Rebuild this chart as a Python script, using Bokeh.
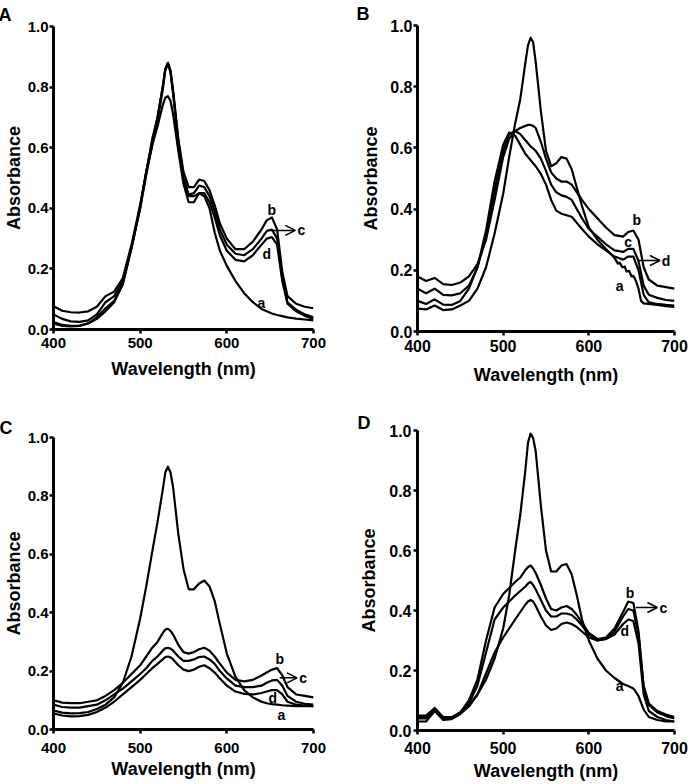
from bokeh.plotting import figure
from bokeh.layouts import row, column
from bokeh.models import Range1d, FixedTicker, PrintfTickFormatter, Arrow, OpenHead, ColumnDataSource
from bokeh.embed import file_html
from bokeh.resources import INLINE
from bokeh.core.properties import value

# ---------------- data ----------------
WL = [400, 410, 420, 430, 440, 450, 460, 470, 480, 490, 500, 507, 514, 520, 526, 529, 532, 535, 538, 544, 550, 556,
      562, 568, 574, 580, 586, 592, 600, 610, 620, 630, 640, 646, 652, 658, 664, 670, 680, 690, 700]

# Panel A
A_a = [.025, .015, .012, .013, .02, .035, .06, .09, .15, .27, .40, .52, .63, .70, .80, .86, .88, .85, .78, .62, .50, .44,
       .44, .45, .44, .40, .32, .26, .21, .16, .12, .09, .068, .06, .053, .048, .044, .04, .036, .033, .03]
A_b = [.077, .062, .057, .056, .06, .075, .11, .125, .17, .28, .41, .52, .62, .70, .80, .86, .88, .855, .79, .63, .52, .47,
       .47, .495, .49, .46, .41, .35, .30, .265, .265, .29, .33, .36, .37, .33, .19, .11, .085, .075, .07]
A_c = [.05, .035, .027, .025, .03, .05, .09, .11, .16, .27, .40, .51, .61, .69, .79, .855, .875, .85, .78, .62, .50, .445,
       .45, .475, .47, .44, .39, .33, .28, .25, .245, .265, .30, .325, .33, .30, .17, .09, .065, .05, .04]
A_d = [.02, .012, .01, .012, .02, .04, .07, .095, .15, .27, .41, .52, .61, .67, .74, .765, .77, .755, .71, .59, .48, .42,
       .42, .45, .45, .42, .37, .31, .26, .23, .225, .245, .28, .30, .305, .28, .16, .085, .06, .045, .035]

# Panel B
B_a_wl = [400, 410, 420, 430, 440, 450, 460, 470, 480, 490, 500, 507, 514, 520, 526, 529, 532, 535, 538, 544, 550, 556,
          562, 568, 574, 580, 586, 592, 600, 610, 620, 630, 634, 636, 639, 642, 644, 647, 650, 652, 655, 658,
          661, 664, 670, 680, 690, 700]
B_a = [.075, .072, .085, .07, .072, .085, .10, .14, .21, .32, .45, .57, .68, .76, .88, .935, .96, .945, .88, .72, .59, .54,
       .55, .57, .565, .53, .47, .41, .34, .30, .27, .24, .222, .225, .21, .212, .196, .198, .18, .182, .165, .14,
       .10, .092, .09, .087, .083, .08]
B_b = [.18, .165, .175, .155, .152, .16, .18, .22, .30, .43, .57, .63, .655, .665, .672, .675, .675, .672, .665, .62, .565, .52,
       .50, .49, .49, .48, .455, .43, .40, .37, .34, .315, .31, .325, .33, .30, .21, .17, .15, .145, .14]
B_c = [.14, .125, .14, .12, .118, .125, .15, .21, .31, .46, .59, .645, .655, .645, .625, .615, .605, .598, .59, .565, .525, .48,
       .455, .445, .44, .43, .40, .37, .335, .31, .285, .265, .26, .27, .27, .23, .15, .12, .11, .103, .10]
B_d = [.10, .09, .105, .088, .087, .10, .14, .21, .33, .49, .61, .65, .64, .61, .58, .57, .56, .55, .54, .515, .48, .43,
       .395, .385, .38, .375, .355, .335, .31, .285, .265, .245, .235, .245, .245, .20, .12, .095, .09, .087, .085]

# Panel C
C_a = [.065, .058, .055, .056, .06, .07, .085, .11, .16, .25, .38, .49, .61, .71, .82, .88, .90, .88, .83, .67, .55, .48,
       .48, .50, .51, .49, .44, .36, .26, .18, .135, .11, .095, .09, .087, .085, .083, .082, .08, .08, .08]
C_b = [.10, .092, .09, .09, .095, .10, .115, .135, .16, .19, .22, .25, .28, .30, .33, .342, .345, .338, .325, .29, .265, .26,
       .265, .275, .28, .27, .25, .225, .195, .17, .165, .17, .185, .195, .205, .21, .185, .145, .12, .115, .11]
C_c = [.085, .077, .075, .075, .08, .085, .10, .12, .14, .165, .19, .21, .235, .25, .27, .278, .28, .277, .27, .25, .235, .235,
       .24, .248, .25, .24, .225, .20, .175, .15, .145, .145, .15, .16, .168, .17, .15, .115, .095, .088, .085]
C_d = [.055, .048, .045, .046, .05, .06, .075, .095, .12, .145, .17, .19, .21, .225, .24, .248, .25, .247, .24, .22, .205, .20,
       .205, .215, .22, .21, .195, .175, .15, .13, .122, .12, .125, .13, .135, .135, .12, .095, .085, .082, .08]

# Panel D
D_a = [.04, .04, .07, .04, .04, .06, .085, .12, .17, .24, .34, .45, .60, .72, .87, .96, .99, .975, .93, .75, .60, .53,
       .53, .55, .555, .52, .45, .37, .30, .24, .20, .175, .155, .148, .14, .115, .07, .045, .035, .03, .03]
D_b = [.05, .05, .075, .045, .045, .06, .10, .17, .30, .41, .455, .475, .495, .51, .535, .545, .55, .54, .525, .485, .44, .405,
       .40, .41, .415, .405, .385, .36, .325, .305, .31, .34, .395, .43, .425, .33, .15, .09, .065, .053, .045]
D_c = [.045, .045, .07, .04, .042, .058, .09, .15, .26, .37, .41, .43, .45, .465, .48, .49, .495, .485, .47, .435, .40, .38,
       .38, .39, .39, .385, .37, .35, .32, .30, .305, .33, .38, .405, .40, .32, .14, .085, .06, .048, .04]
D_d = [.03, .03, .065, .035, .038, .055, .08, .12, .19, .26, .31, .34, .37, .395, .42, .43, .435, .43, .415, .38, .35, .335,
       .34, .355, .36, .355, .345, .33, .31, .30, .305, .32, .355, .37, .365, .29, .12, .065, .045, .035, .03]

X_TICKS = [400, 500, 600, 700]
Y_TICKS = [0.0, 0.2, 0.4, 0.6, 0.8, 1.0]

# curve labels per panel: (text, wavelength, absorbance)
LAB_A = dict(t=["b", "d", "a"], x=[652, 646, 640], y=[0.393, 0.25, 0.086])
LAB_B = dict(t=["b", "c", "a"], x=[656, 646, 636], y=[0.363, 0.292, 0.150])
LAB_C = dict(t=["b", "d", "a"], x=[661, 653, 663], y=[0.24, 0.109, 0.051])
LAB_D = dict(t=["b", "d", "a"], x=[648, 642, 636], y=[0.46, 0.333, 0.15])
# arrow (x_start, x_end, y, label)
ARR_A = (646, 679, 0.327, "c")
ARR_B = (658, 683, 0.232, "d")
ARR_C = (661, 681, 0.177, "c")
ARR_D = (655, 680, 0.41, "c")

FONT = value("Liberation Sans")


def panel(letter, curves, labels, arrow, w, h, bl, br, bt, bb, tick_fs, ys1, ys2, xs1, xs2, loff, lstand):
    p = figure(width=w, height=h, output_backend="svg", toolbar_location=None, title=letter,
               x_range=Range1d(400, 700), y_range=Range1d(0, 1.0),
               min_border_left=bl, min_border_right=br, min_border_top=bt, min_border_bottom=bb)
    p.title.align = "left"
    p.title.offset = loff
    p.title.standoff = lstand
    p.title.text_font = "Liberation Sans"
    p.title.text_font_style = "bold"
    p.title.text_font_size = "18px"
    p.title.text_color = "black"
    p.outline_line_color = None
    p.grid.visible = False
    p.background_fill_color = "white"
    p.border_fill_color = "white"
    for wl, vals in curves:
        p.line(wl, vals, line_color="black", line_width=2.2, line_join="round")
    for ax in (p.xaxis[0], p.yaxis[0]):
        ax.axis_line_width = 3
        ax.major_tick_line_width = 2.5
        ax.major_tick_out = 4
        ax.major_tick_in = 0
        ax.minor_tick_line_color = None
        ax.major_label_text_font = "Liberation Sans"
        ax.major_label_text_font_style = "bold"
        ax.major_label_text_font_size = f"{tick_fs}px"
        ax.major_label_text_color = "black"
        ax.axis_label_text_font = "Liberation Sans"
        ax.axis_label_text_font_style = "bold"
        ax.axis_label_text_font_size = "18px"
        ax.axis_label_text_color = "black"
    p.xaxis.ticker = FixedTicker(ticks=X_TICKS)
    p.yaxis.ticker = FixedTicker(ticks=Y_TICKS)
    p.yaxis.formatter = PrintfTickFormatter(format="%.1f")
    p.xaxis.axis_label = "Wavelength (nm)"
    p.yaxis.axis_label = "Absorbance"
    p.yaxis.major_label_standoff = ys1
    p.yaxis.axis_label_standoff = ys2
    p.xaxis.major_label_standoff = xs1
    p.xaxis.axis_label_standoff = xs2

    src = ColumnDataSource(dict(x=labels["x"], y=labels["y"], t=labels["t"]))
    p.text(x="x", y="y", text="t", source=src, text_font=FONT, text_font_style="bold",
           text_font_size="14px", text_align="center", text_baseline="middle", text_color="black")
    x0, x1, ya, at = arrow
    p.add_layout(Arrow(end=OpenHead(size=10, line_width=1.5, line_color="black"),
                       x_start=x0, y_start=ya, x_end=x1, y_end=ya, line_width=1.5, line_color="black"))
    p.text(x=[x1 + 7], y=[ya], text=[at], text_font=FONT, text_font_style="bold",
           text_font_size="14px", text_align="center", text_baseline="middle", text_color="black")
    return p


pA = panel("A", [(WL, A_a), (WL, A_b), (WL, A_c), (WL, A_d)], LAB_A, ARR_A,
           346, 392, 53, 33, 26, 63, 15, 1, 1, 4, 8, -55, 3)
pB = panel("B", [(B_a_wl, B_a), (WL, B_b), (WL, B_c), (WL, B_d)], LAB_B, ARR_B,
           347, 392, 69, 14, 25, 61, 16, 1, 6, 4, 10, -61, 3)
pC = panel("C", [(WL, C_a), (WL, C_b), (WL, C_c), (WL, C_d)], LAB_C, ARR_C,
           346, 392, 53, 33, 45, 55, 15, 1, 1, 9, 3, -54, 0)
pD = panel("D", [(WL, D_a), (WL, D_b), (WL, D_c), (WL, D_d)], LAB_D, ARR_D,
           347, 392, 71, 19, 38, 54, 16, 2, 7, 7, 4, -60, -5)

layout = row(column(pA, pC), column(pB, pD))
open("out.html", "w").write(file_html(layout, INLINE))
